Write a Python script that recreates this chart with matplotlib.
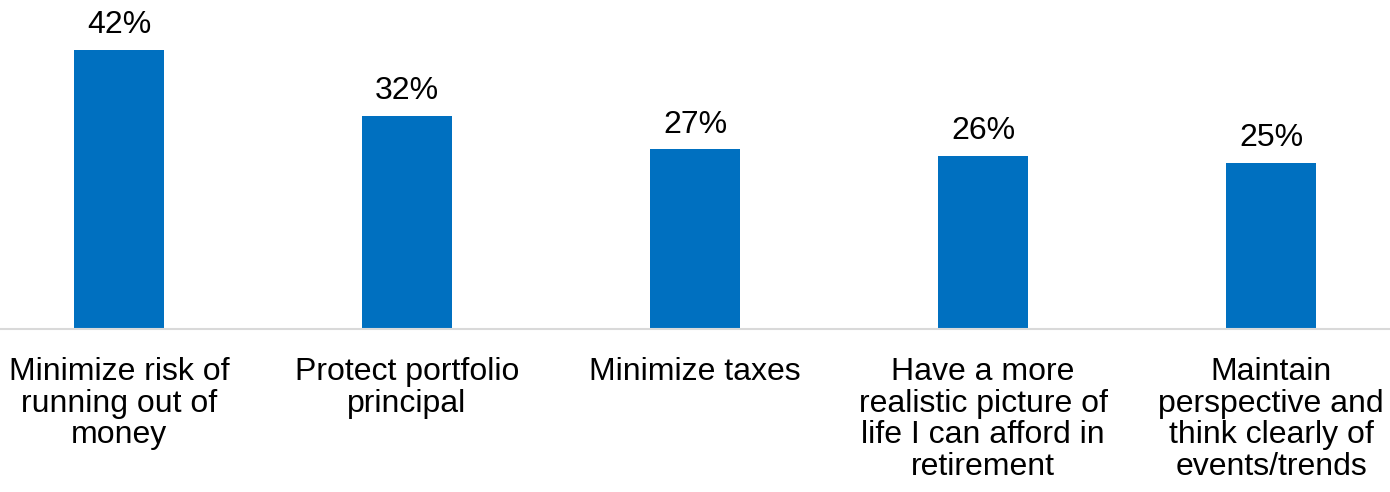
import matplotlib
matplotlib.use("Agg")
import matplotlib.pyplot as plt

categories = [
    "Minimize risk of\nrunning out of\nmoney",
    "Protect portfolio\nprincipal",
    "Minimize taxes",
    "Have a more\nrealistic picture of\nlife I can afford in\nretirement",
    "Maintain\nperspective and\nthink clearly of\nevents/trends",
]
values = [42, 32, 27, 26, 25]

plt.rcParams["font.family"] = ["Liberation Sans", "DejaVu Sans"]

fig = plt.figure(figsize=(13.9, 4.92), dpi=100)
ax = fig.add_axes([0.0, 0.3313, 1.0, 0.6687])

x = list(range(len(categories)))
bars = ax.bar(x, values, width=0.3125, color="#0070C0", zorder=2)

for rect, v in zip(bars, values):
    ax.annotate(f"{v}%", (rect.get_x() + rect.get_width() / 2, rect.get_height()),
                xytext=(0, 12), textcoords="offset points",
                ha="center", va="baseline", fontsize=23, color="#000000")

ax.set_xlim(-0.413, 4.413)
ax.set_ylim(0, 49.44)
ax.set_xticks(x)
ax.set_xticklabels(categories, fontsize=23, linespacing=1.08, color="#000000")
ax.tick_params(axis="x", length=0, pad=20)
ax.set_yticks([])
for side in ["top", "left", "right"]:
    ax.spines[side].set_visible(False)
ax.spines["bottom"].set_color("#D9D9D9")
ax.spines["bottom"].set_linewidth(1.5)
ax.patch.set_alpha(0)

fig.savefig("out.png", dpi=100, facecolor="white")
